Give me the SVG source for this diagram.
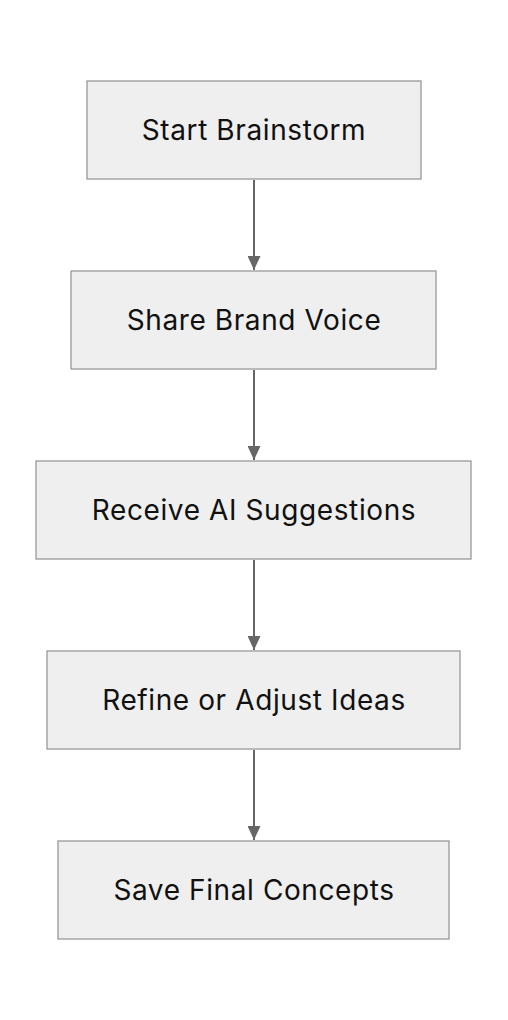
<svg xmlns="http://www.w3.org/2000/svg" width="508" height="1020" viewBox="0 0 508 1020">
<style>
.n rect{fill:#efefef;stroke:#999;stroke-width:1.3}
.n text{font-family:Inter,"Noto Sans",sans-serif;font-size:28px;letter-spacing:0.6px;fill:#111;text-anchor:middle;dominant-baseline:central}
.e line{stroke:#666;stroke-width:2}
</style>
<defs>
<marker id="ah" viewBox="0 0 14 13" refX="14" refY="6.5" markerWidth="14" markerHeight="13" markerUnits="userSpaceOnUse" orient="auto">
<path d="M0,0 L14,6.5 L0,13 z" fill="#666"/>
</marker>
</defs>
<rect width="508" height="1020" fill="#fff"/>
<g class="e">
<line x1="254" y1="180" x2="254" y2="270" marker-end="url(#ah)"/>
<line x1="254" y1="370" x2="254" y2="460" marker-end="url(#ah)"/>
<line x1="254" y1="560" x2="254" y2="650" marker-end="url(#ah)"/>
<line x1="254" y1="750" x2="254" y2="840" marker-end="url(#ah)"/>
</g>
<g id="n1" class="n"><rect x="87" y="81" width="334" height="98"/><text x="254" y="130">Start Brainstorm</text></g>
<g id="n2" class="n"><rect x="71" y="271" width="365" height="98"/><text x="254" y="320">Share Brand Voice</text></g>
<g id="n3" class="n"><rect x="36" y="461" width="435" height="98"/><text x="254" y="510">Receive AI Suggestions</text></g>
<g id="n4" class="n"><rect x="47" y="651" width="413" height="98"/><text x="254" y="700">Refine or Adjust Ideas</text></g>
<g id="n5" class="n"><rect x="58" y="841" width="391" height="98"/><text x="254" y="890">Save Final Concepts</text></g>
</svg>
